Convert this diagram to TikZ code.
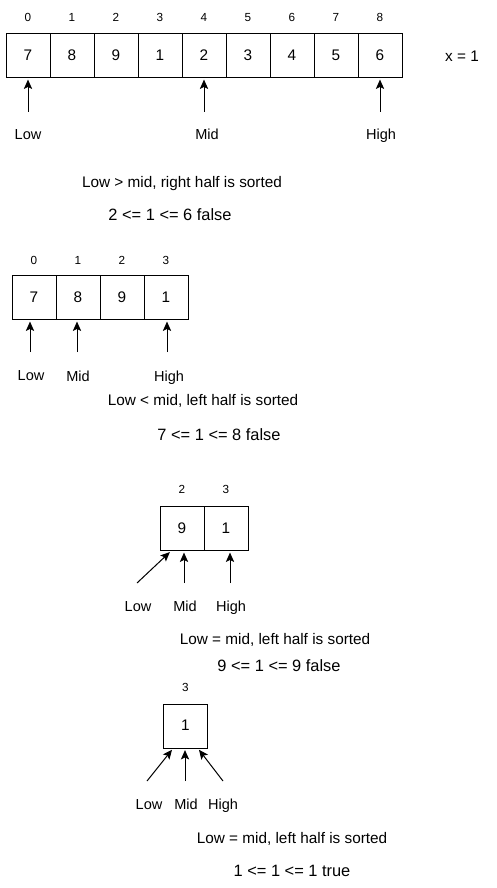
\documentclass[tikz,border=0pt]{standalone}
\usepackage{fontspec}
\setmainfont{Liberation Sans}
\usetikzlibrary{arrows.meta,calc}
\tikzset{every node/.style={text height=0.72em, text depth=0pt, inner sep=0pt},
  cell/.style={draw, line width=0.75pt, minimum width=33pt, minimum height=33pt, font=\fontsize{11.5}{13}\selectfont},
  idx/.style={font=\fontsize{8.8}{10}\selectfont},
  ptr/.style={font=\fontsize{10.9}{13}\selectfont},
  note/.style={font=\fontsize{11.5}{13}\selectfont},
  cond/.style={font=\fontsize{12.3}{14}\selectfont},
  arr/.style={-{Stealth[length=7pt,width=6.2pt,inset=1.5pt]}, line width=0.75pt, shorten >=1.2pt}}

\begin{document}
\begin{tikzpicture}[x=0.75pt,y=-0.75pt]
  \useasboundingbox (0,0) rectangle (496,888);
  \foreach \v [count=\i from 0] in {7,8,9,1,2,3,4,5,6} {
    \node[cell] (c1-\i) at ({28+44*\i},55.5) {\v};
    \node[idx] (n1-\i) at ({28+44*\i},17) {\i};
  }
  \node[note] (x) at (462,57) {x = 1};
  \coordinate (t1-low) at (28,112);
  \coordinate (t1-mid) at (204,112);
  \coordinate (t1-high) at (380,112);
  \draw[arr] (t1-low) -- (c1-0.south);
  \draw[arr] (t1-mid) -- (c1-4.south);
  \draw[arr] (t1-high) -- (c1-8.south);
  \node[ptr] (l1-low) at (28,135) {Low};
  \node[ptr] (l1-mid) at (207,135) {Mid};
  \node[ptr] (l1-high) at (381,135) {High};
  \node[note] (s1) at (182,183) {Low > mid, right half is sorted};
  \node[cond] (k1) at (170,216) {2 <= 1 <= 6 false};

  \foreach \v [count=\i from 0] in {7,8,9,1} {
    \node[cell] (c2-\i) at ({34+44*\i},297.5) {\v};
    \node[idx] (n2-\i) at ({34+44*\i},260) {\i};
  }
  \coordinate (t2-low) at (30,352);
  \coordinate (t2-mid) at (77,352);
  \coordinate (t2-high) at (167,352);
  \draw[arr] (t2-low) -- (t2-low |- c2-0.south);
  \draw[arr] (t2-mid) -- (t2-mid |- c2-1.south);
  \draw[arr] (t2-high) -- (t2-high |- c2-3.south);
  \node[ptr] (l2-low) at (31,376) {Low};
  \node[ptr] (l2-mid) at (78,377) {Mid};
  \node[ptr] (l2-high) at (169,377) {High};
  \node[note] (s2) at (203,401) {Low < mid, left half is sorted};
  \node[cond] (k2) at (219,436) {7 <= 1 <= 8 false};

  \foreach \v [count=\i from 2] in {9,1} {
    \node[cell] (c3-\i) at ({182+44*(\i-2)},528.5) {\v};
    \node[idx] (n3-\i) at ({182+44*(\i-2)},489) {\i};
  }
  \coordinate (t3-low) at (137,583);
  \coordinate (t3-mid) at (184,583);
  \coordinate (t3-high) at (230,583);
  \draw[arr] (t3-low) -- ($(c3-2.south)+(-11,0)$);
  \draw[arr] (t3-mid) -- (t3-mid |- c3-2.south);
  \draw[arr] (t3-high) -- (t3-high |- c3-3.south);
  \node[ptr] (l3-low) at (138,607) {Low};
  \node[ptr] (l3-mid) at (185,607) {Mid};
  \node[ptr] (l3-high) at (231,607) {High};
  \node[note] (s3) at (275,640) {Low = mid, left half is sorted};
  \node[cond] (k3) at (279,667) {9 <= 1 <= 9 false};

  \node[cell] (c4-3) at (185.5,726) {1};
  \node[idx] (n4-3) at (185.5,687) {3};
  \coordinate (t4-low) at (147,781);
  \coordinate (t4-mid) at (185,781);
  \coordinate (t4-high) at (223,781);
  \draw[arr] (t4-low) -- ($(c4-3.south)+(-12.5,0)$);
  \draw[arr] (t4-mid) -- (t4-mid |- c4-3.south);
  \draw[arr] (t4-high) -- ($(c4-3.south)+(12.5,0)$);
  \node[ptr] (l4-low) at (149,805) {Low};
  \node[ptr] (l4-mid) at (186,805) {Mid};
  \node[ptr] (l4-high) at (223,805) {High};
  \node[note] (s4) at (292,839) {Low = mid, left half is sorted};
  \node[cond] (k4) at (292,872) {1 <= 1 <= 1 true};
\end{tikzpicture}
\end{document}
